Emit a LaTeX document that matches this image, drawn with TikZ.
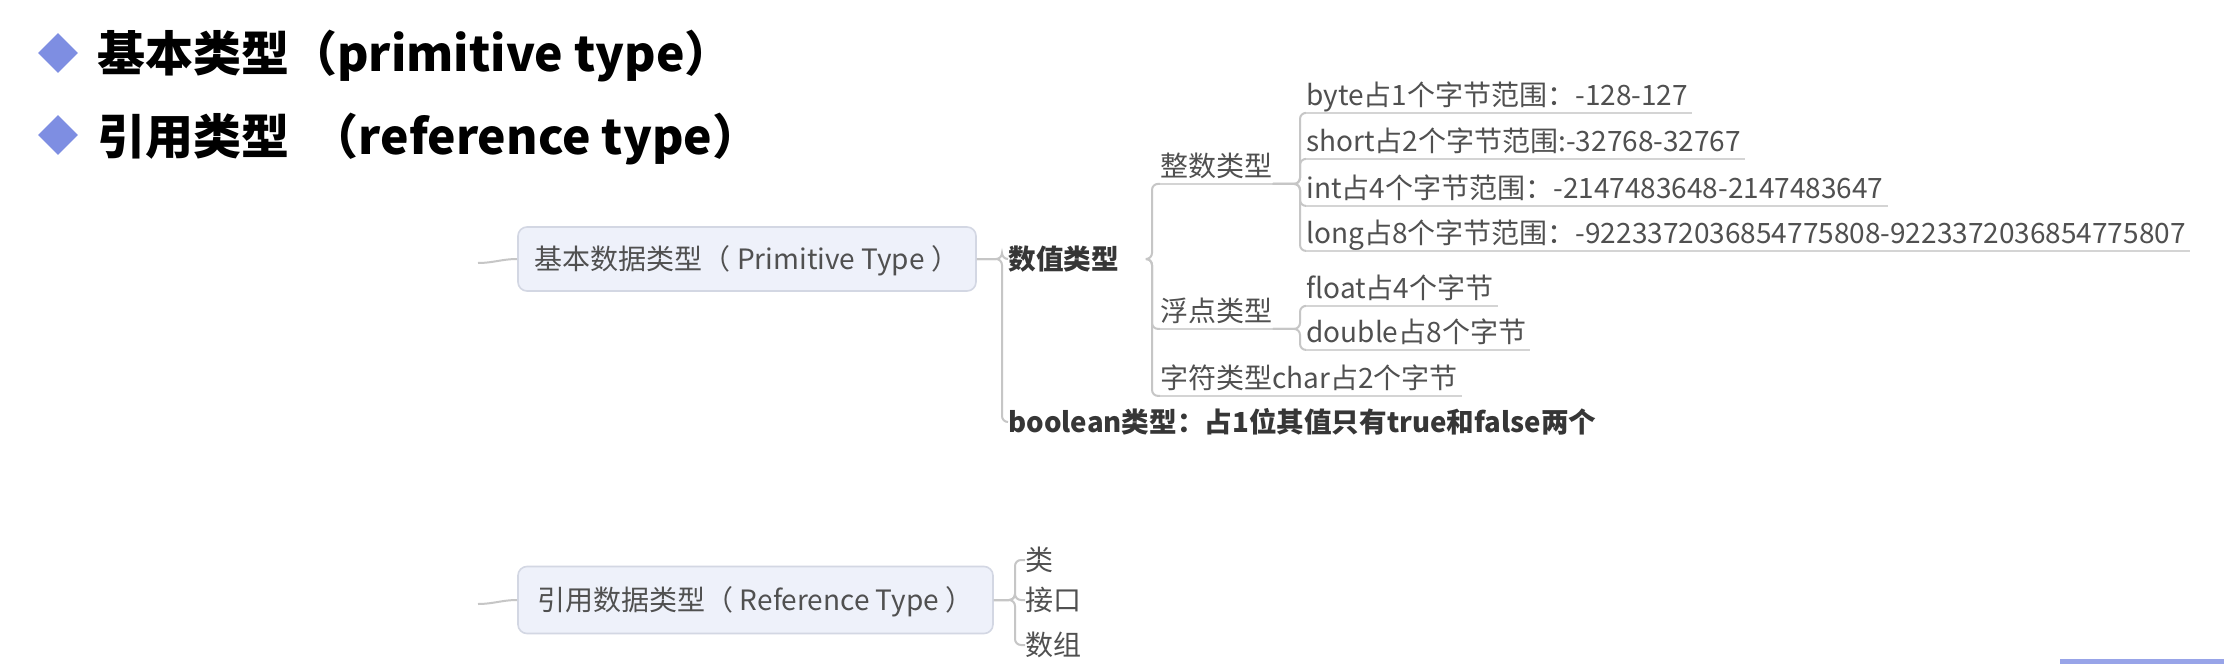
\documentclass[tikz,border=0pt]{standalone}
\usepackage{fontspec}
\setmainfont{Noto Sans CJK SC}
\usetikzlibrary{shapes.geometric}
\definecolor{bulletblue}{HTML}{7E8EE2}
\definecolor{boxfill}{HTML}{EEF1FA}
\definecolor{boxline}{HTML}{D3D7E3}
\definecolor{txtgray}{HTML}{505050}
\definecolor{txtdark}{HTML}{363636}
\definecolor{linegray}{HTML}{C6C6C6}
\definecolor{ulgray}{HTML}{D4D4D4}
\begin{document}
\begin{tikzpicture}[x=0.5pt,y=-0.5pt,
  bullet/.style={diamond,fill=bulletblue,draw=none,inner sep=0pt,minimum width=20pt,minimum height=20pt},
  titletext/.style={anchor=west,inner sep=0pt,font=\fontsize{24pt}{29pt}\selectfont\bfseries,text=black,text height=21.6pt,text depth=3.4pt},
  topic/.style={draw=boxline,fill=boxfill,line width=0.8pt,rounded corners=4.5pt,text=txtgray,font=\fontsize{14pt}{17pt}\selectfont,inner sep=0pt,text height=13.64pt,text depth=3pt},
  lv/.style={anchor=west,inner sep=0pt,text=txtgray,font=\fontsize{14pt}{17pt}\selectfont,text height=14.07pt,text depth=3.43pt},
  lvb/.style={lv,text=txtdark,font=\fontsize{13.8pt}{17pt}\selectfont\bfseries},
  conn/.style={draw=linegray,line width=1pt,rounded corners=3pt},
  uline/.style={draw=ulgray,line width=1pt}
]
\useasboundingbox (0,0) rectangle (2224,664);
\fill[white] (0,0) rectangle (2224,664);

% titles
\node[bullet] (b1) at (58,53) {};
\node[titletext] (t1) at (97,53) {基本类型（primitive type）};
\node[bullet] (b2) at (58,135) {};
\node[titletext] (t2) at (97,136) {引用类型\hspace{0.45em}（reference type）};

% primitive branch
\node[topic,minimum width=229pt,minimum height=32pt] (p1) at (747,259) {基本数据类型（ Primitive Type ）};
\coordinate (s1) at (478,263);
\draw[conn] (s1) to[out=0,in=180] (p1.west);

\node[lvb] (sz) at (1008,259) {数值类型};
\node[lvb] (bool) at (1008,422) {boolean类型：占1位其值只有true和false两个};
\draw[conn] (p1.east) -| ([xshift=-3pt]sz.west) -- (sz.west);
\draw[conn] (p1.east) -| ([xshift=-3pt]bool.west) -- (bool.west);

\node[lv] (zs) at (1160,166) {整数类型};
\node[lv] (fd) at (1160,311) {浮点类型};
\node[lv] (zf) at (1160,378) {字符类型char占2个字节};
\foreach \n in {zs,fd,zf}{
  \draw[conn] ([xshift=14pt]sz.east) -| ([xshift=-4pt]\n.south west) -- (\n.south west);
  \draw[uline] (\n.south west) -- (\n.south east);
}
\draw[uline] (zf.south east) -- ++(4,0);

\node[lv] (byte) at (1306,95) {byte占1个字节范围：-128-127};
\node[lv] (short) at (1306,141) {short占2个字节范围:-32768-32767};
\node[lv] (int) at (1306,188) {int占4个字节范围：-2147483648-2147483647};
\node[lv] (long) at (1306,233) {long占8个字节范围：-9223372036854775808-9223372036854775807};
\foreach \n in {byte,short,int,long}{
  \draw[conn] (zs.south east) -| ([xshift=-3pt]\n.south west) -- (\n.south west);
  \draw[uline] (\n.south west) -- ([xshift=2pt]\n.south east);
}

\node[lv] (fl) at (1306,288) {float占4个字节};
\node[lv] (db) at (1306,332) {double占8个字节};
\foreach \n in {fl,db}{
  \draw[conn] (fd.south east) -| ([xshift=-3pt]\n.south west) -- (\n.south west);
  \draw[uline] (\n.south west) -- ([xshift=2pt]\n.south east);
}

% reference branch
\node[topic,minimum width=237.5pt,minimum height=33.5pt] (p2) at (755.5,600) {引用数据类型（ Reference Type ）};
\coordinate (s2) at (478,604);
\draw[conn] (s2) to[out=0,in=180] (p2.west);

\node[lv] (lei) at (1025,560) {类};
\node[lv] (jk) at (1025,600) {接口};
\node[lv] (sj) at (1025,645) {数组};
\foreach \n in {lei,jk,sj}{
  \draw[conn] (p2.east) -| ([xshift=-5pt]\n.west) -- (\n.west);
}

% bottom-right fragment
\fill[bulletblue!80] (2060,659) rectangle (2224,664);
\end{tikzpicture}
\end{document}
